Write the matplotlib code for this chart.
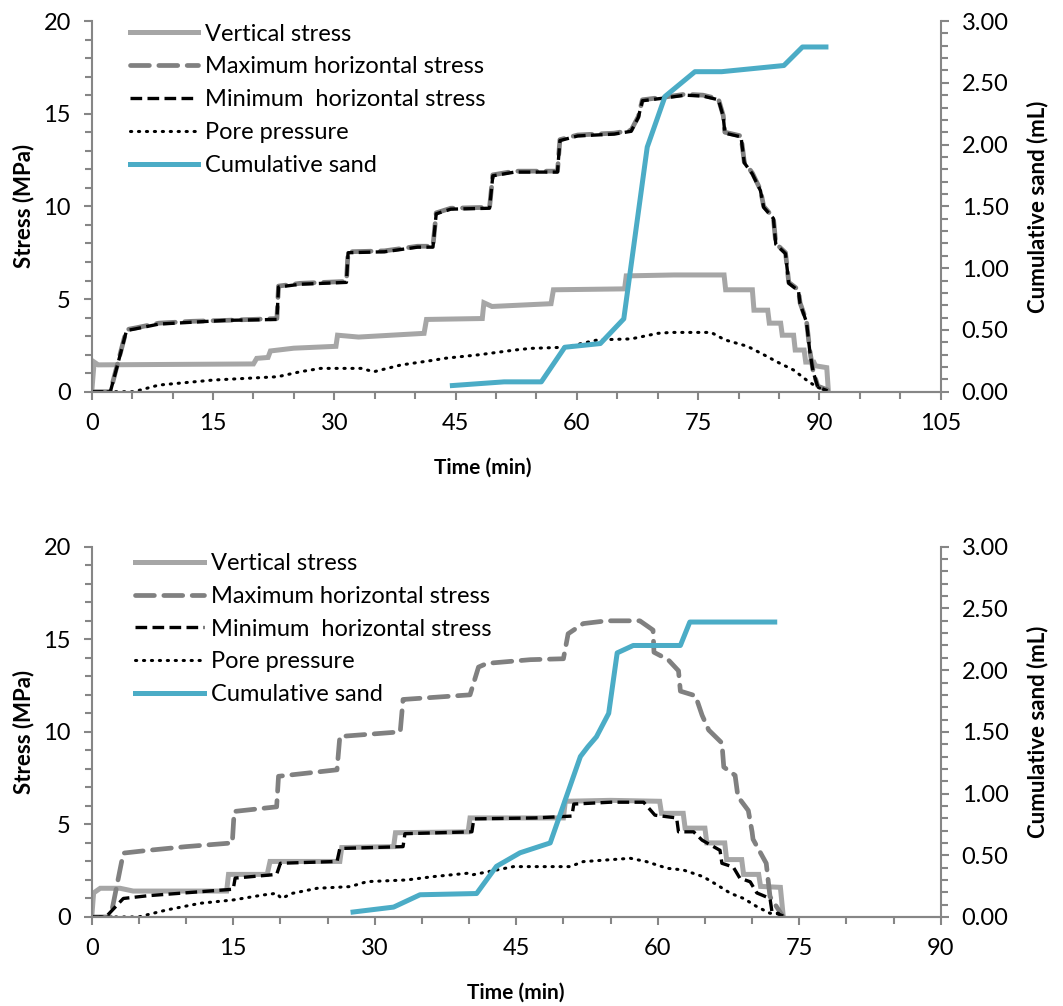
import numpy as np
import matplotlib
matplotlib.use("Agg")
import matplotlib.pyplot as plt
from matplotlib.ticker import MultipleLocator, FormatStrFormatter

plt.rcParams['font.family'] = ['Lato', 'DejaVu Sans']

# ---- data: (time in min, value) ----
# top test
vert_top = [(0, 0), (0.3, 1.6), (0.8, 1.45), (20.0, 1.5), (20.4, 1.8), (21.8, 1.85), (22.1, 2.2),
            (25.0, 2.35), (30.2, 2.45), (30.4, 3.05), (33, 2.95), (41.1, 3.15), (41.4, 3.9),
            (48.3, 3.95), (48.5, 4.8), (49.5, 4.6), (56.8, 4.75), (57.1, 5.5), (65.9, 5.55),
            (66.1, 6.25), (72, 6.3), (78.2, 6.3), (78.4, 5.5), (81.7, 5.5), (81.9, 4.4), (83.6, 4.4),
            (83.8, 3.7), (85.2, 3.7), (85.4, 3.05), (86.8, 3.05), (87.0, 2.25), (88.1, 2.25),
            (88.3, 1.6), (89.3, 1.6), (89.5, 1.4), (90.9, 1.3), (91.1, 0.05)]
maxh_top = [(0, 0), (2.3, 0), (3.1, 1.35), (4.3, 3.35), (5.5, 3.45), (8.3, 3.7), (12.4, 3.8),
            (16.5, 3.85), (22.9, 3.95), (23.1, 5.7), (25.8, 5.85), (31.5, 5.95), (31.7, 7.55),
            (36.2, 7.6), (40.3, 7.85), (42.2, 7.85), (42.6, 9.65), (44.4, 9.9), (49.2, 9.95),
            (49.6, 11.7), (52.3, 11.9), (57.6, 11.9), (57.9, 13.6), (60.1, 13.85), (64.6, 13.95),
            (66.7, 14.1), (67.6, 14.85), (68.1, 15.75), (70.9, 15.9), (73.4, 16.05), (75.6, 16.0),
            (77.5, 15.8), (78.1, 14.9), (78.3, 14.0), (80.3, 13.8), (80.7, 12.4), (81.7, 11.8),
            (82.7, 10.9), (83.1, 10.0), (84.3, 9.4), (84.6, 8.0), (85.8, 7.5), (86.2, 5.9),
            (87.4, 5.5), (87.6, 4.8), (88.4, 3.8), (88.8, 2.25), (89.2, 1.15), (89.8, 0.3), (91.0, 0.1)]
minh_top = [(0, 0), (2.3, 0), (3.1, 1.3), (4.3, 3.3), (5.5, 3.4), (8.3, 3.65), (12.4, 3.75),
            (16.5, 3.85), (22.9, 3.9), (23.1, 5.65), (25.8, 5.8), (31.5, 5.9), (31.7, 7.5),
            (36.2, 7.55), (40.3, 7.8), (42.2, 7.8), (42.6, 9.6), (44.4, 9.85), (49.2, 9.9),
            (49.6, 11.65), (52.3, 11.85), (57.6, 11.85), (57.9, 13.55), (60.1, 13.8), (64.6, 13.9),
            (66.7, 14.05), (67.6, 14.8), (68.1, 15.7), (70.9, 15.85), (73.4, 16.0), (75.6, 15.95),
            (77.5, 15.75), (78.1, 14.85), (78.3, 13.95), (80.3, 13.75), (80.7, 12.35), (81.7, 11.75),
            (82.7, 10.85), (83.1, 9.95), (84.3, 9.35), (84.6, 7.95), (85.8, 7.45), (86.2, 5.85),
            (87.4, 5.45), (87.6, 4.75), (88.4, 3.75), (88.8, 2.2), (89.2, 1.1), (89.8, 0.25), (91.0, 0.05)]
pore_top = [(0, 0), (5.2, 0), (8.3, 0.36), (15.0, 0.63), (23.0, 0.81), (25.8, 1.08), (28.3, 1.26),
            (33.3, 1.26), (34.9, 1.08), (38.2, 1.44), (42.4, 1.71), (43.6, 1.8), (48, 2.0),
            (52.3, 2.25), (54.3, 2.34), (58.5, 2.4), (62.6, 2.8), (66.7, 2.85), (70.0, 3.15),
            (71.6, 3.2), (76.6, 3.2), (78.3, 2.8), (81.1, 2.45), (83.1, 2.0), (84.8, 1.6),
            (86.8, 1.17), (88.4, 0.63), (89.6, 0.27), (90.6, 0.1)]
sand_top = [(44.6, 0.05), (51.0, 0.08), (55.6, 0.08), (58.5, 0.36), (62.9, 0.39), (65.8, 0.59),
            (68.7, 1.98), (70.9, 2.39), (74.6, 2.59), (77.9, 2.59), (85.6, 2.64), (87.9, 2.79),
            (90.8, 2.79)]

# bottom test
vert_bot = [(0, 0), (0.2, 1.3), (0.9, 1.55), (3.0, 1.55), (4.4, 1.4), (14.3, 1.4), (14.5, 2.3),
            (18.6, 2.3), (18.9, 3.0), (26.3, 3.0), (26.5, 3.75), (32.0, 3.8), (32.2, 4.55),
            (39.9, 4.6), (40.1, 5.35), (50.0, 5.35), (50.2, 6.25), (55, 6.3), (60.2, 6.25),
            (60.4, 5.6), (62.7, 5.6), (62.9, 4.8), (65.0, 4.8), (65.2, 4.0), (67.1, 4.0),
            (67.3, 3.1), (68.9, 3.1), (69.1, 2.3), (70.7, 2.3), (70.9, 1.65), (73.0, 1.6), (73.3, 0.05)]
maxh_bot = [(0, 0), (2.0, 0), (3.35, 3.45), (6, 3.6), (10, 3.8), (14.9, 4.0), (15.1, 5.7),
            (19.6, 5.95), (19.8, 7.6), (26.0, 7.95), (26.3, 9.75), (32.7, 10.0), (33.0, 11.75),
            (40.1, 12.0), (41.0, 13.5), (41.9, 13.7), (46.5, 13.9), (50.0, 13.95), (50.5, 15.3),
            (52.1, 15.85), (54.6, 16.0), (58.1, 16.0), (59.5, 15.5), (59.6, 14.3), (61.1, 13.9),
            (62.2, 13.3), (62.4, 12.2), (64.0, 11.95), (64.7, 10.9), (65.4, 10.1), (66.8, 9.4),
            (67.0, 8.1), (68.2, 7.65), (68.5, 6.5), (69.6, 5.75), (70.0, 4.6), (70.1, 4.2),
            (71.5, 2.9), (71.9, 1.1), (73.3, 0)]
minh_bot = [(0, 0), (1.5, 0), (3.35, 1.0), (6, 1.15), (15.0, 1.5), (15.2, 2.1), (19.6, 2.3),
            (20.0, 2.9), (26.0, 3.0), (26.3, 3.7), (33.0, 3.8), (33.2, 4.5), (40.3, 4.6),
            (40.5, 5.3), (47, 5.35), (50.9, 5.45), (51.1, 6.1), (55, 6.2), (58.5, 6.2),
            (59.7, 5.5), (62.0, 5.35), (62.2, 4.6), (63.8, 4.6), (64.7, 4.15), (66.6, 3.6),
            (66.8, 2.9), (68.0, 2.7), (68.7, 2.1), (69.8, 1.9), (70.5, 1.3), (71.9, 1.0),
            (72.1, 0.3), (73.3, 0.05)]
pore_bot = [(0, 0), (4.95, 0), (7.95, 0.38), (11.5, 0.74), (15.0, 0.92), (18.2, 1.19), (19.6, 1.28),
            (20.1, 1.0), (21.3, 1.28), (23.9, 1.55), (27.4, 1.64), (29.2, 1.91), (33.4, 2.0),
            (36.2, 2.18), (39.8, 2.36), (40.3, 2.27), (44.7, 2.72), (50.7, 2.72), (52.1, 2.99),
            (57.1, 3.17), (58.8, 2.99), (61.0, 2.63), (62.7, 2.54), (64.8, 2.18), (66.3, 1.73),
            (67.7, 1.28), (69.1, 1.0), (70.5, 0.56), (71.9, 0.2), (72.8, 0.2)]
sand_bot = [(27.7, 0.04), (32.0, 0.08), (34.8, 0.18), (40.8, 0.19), (42.9, 0.41), (45.4, 0.52),
            (48.6, 0.6), (51.8, 1.3), (52.6, 1.38), (53.5, 1.46), (54.8, 1.65), (55.7, 2.14),
            (57.4, 2.2), (62.4, 2.2), (63.4, 2.39), (72.4, 2.39)]

labels = ['Vertical stress', 'Maximum horizontal stress', 'Minimum  horizontal stress',
          'Pore pressure', 'Cumulative sand']

AXC = '#868686'


def draw(ax, vert, maxh, minh, pore, sand, xmax, xlab_x, leg_x, leg_y):
    h = []
    t, v = np.array(vert).T
    h += ax.plot(t, v, color='#A6A6A6', lw=3.6, solid_joinstyle='miter')
    t, v = np.array(maxh).T
    h += ax.plot(t, v, color='#808080', lw=3.4, ls=(0, (4, 2)), dash_capstyle='round')
    t, v = np.array(minh).T
    h += ax.plot(t, v, color='black', lw=2.4, ls=(0, (3.5, 1.6)))
    t, v = np.array(pore).T
    h += ax.plot(t, v, color='black', lw=2.2, ls=(0, (0.4, 2.2)), dash_capstyle='round')

    ax2 = ax.twinx()
    t, v = np.array(sand).T
    h += ax2.plot(t, v, color='#4BACC6', lw=3.6)

    ax.set_xlim(0, xmax)
    ax.set_ylim(0, 20)
    ax2.set_ylim(0, 3)
    ax.xaxis.set_major_locator(MultipleLocator(15))
    ax.xaxis.set_minor_locator(MultipleLocator(5))
    ax.yaxis.set_major_locator(MultipleLocator(5))
    ax.yaxis.set_minor_locator(MultipleLocator(1))
    ax2.yaxis.set_major_locator(MultipleLocator(0.5))
    ax2.yaxis.set_minor_locator(MultipleLocator(0.1))
    ax2.yaxis.set_major_formatter(FormatStrFormatter('%.2f'))

    for a in (ax, ax2):
        a.spines['top'].set_visible(False)
        for s in ('left', 'right', 'bottom'):
            a.spines[s].set_color(AXC)
            a.spines[s].set_linewidth(1.5)
        a.tick_params(which='both', color=AXC, width=1.5, labelsize=17, pad=9)
        a.tick_params(which='major', length=6)
        a.tick_params(which='minor', length=5)
    ax2.spines['left'].set_visible(False)
    ax.spines['right'].set_visible(False)

    ax.set_ylabel('Stress (MPa)', fontsize=16, fontweight='bold')
    ax.yaxis.set_label_coords(-0.068, 0.5)
    ax2.set_ylabel('Cumulative sand (mL)', fontsize=16, fontweight='bold')
    ax2.yaxis.set_label_coords(1.101, 0.5)
    ax.set_xlabel('Time (min)', fontsize=15, fontweight='bold')
    ax.xaxis.set_label_coords(xlab_x, -0.178)

    ax.legend(h, labels, loc='upper left', bbox_to_anchor=(leg_x, leg_y), frameon=False,
              fontsize=17, handlelength=2.9, handletextpad=0.3, labelspacing=0.5,
              borderpad=0, borderaxespad=0)


fig = plt.figure(figsize=(10.63, 10.06), dpi=100)
ax_top = fig.add_axes([0.0863, 0.6106, 0.7987, 0.3685])
ax_bot = fig.add_axes([0.0863, 0.0885, 0.7987, 0.368])

draw(ax_top, vert_top, maxh_top, minh_top, pore_top, sand_top, 105, 0.46, 0.045, 0.993)
draw(ax_bot, vert_bot, maxh_bot, minh_bot, pore_bot, sand_bot, 90, 0.5, 0.051, 0.983)

fig.savefig('out.png', dpi=100)
